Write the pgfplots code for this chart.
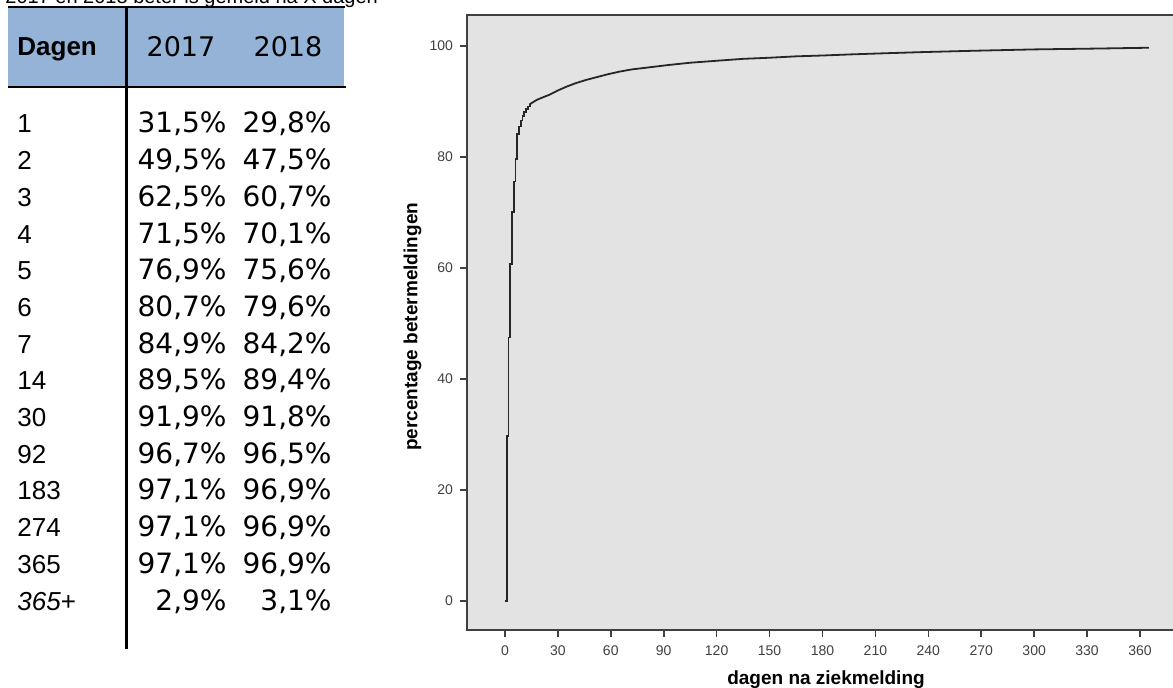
\documentclass[border=0pt]{standalone}
\usepackage{fontspec}
\setmainfont{Liberation Sans}
\newfontfamily\verd{DejaVu Sans}
\usepackage{pgfplots}
\pgfplotsset{compat=1.18}

\definecolor{hdrblue}{HTML}{95B3D7}
\definecolor{bggray}{HTML}{E3E3E3}
\definecolor{axgray}{HTML}{404040}
\definecolor{curve}{HTML}{262626}

\begin{document}
\begin{tikzpicture}
% picture is 1173 x 688 px, 1 px = 0.5pt
\path[use as bounding box, clip] (0,0) rectangle (586.5pt,-344pt);

% ---- table (px coordinates, y downwards)
\begin{scope}[x=0.5pt, y=-0.5pt, every node/.style={inner sep=0pt}]
  \node[anchor=base west, font=\fontsize{10}{12}\selectfont] at (5,4) {2017 en 2018 beter is gemeld na X dagen};
  \fill[hdrblue] (8,8) rectangle (344,86);
  \draw[line width=1pt] (8,7) -- (345,7);
  \draw[line width=1.3pt] (8,87) -- (346,87);
  \draw[line width=1.5pt] (126,7) -- (126,649);

  \node[anchor=base west, font=\fontsize{13}{15}\selectfont\bfseries] at (17,56) {Dagen};
  \node[anchor=base, font=\verd\fontsize{13.5}{15}\selectfont] at (181,57) {2017};
  \node[anchor=base, font=\verd\fontsize{13.5}{15}\selectfont] at (288,57) {2018};

  \foreach \d/\a/\b [count=\i from 0] in {
      1/{31,5\%}/{29,8\%}, 2/{49,5\%}/{47,5\%}, 3/{62,5\%}/{60,7\%},
      4/{71,5\%}/{70,1\%}, 5/{76,9\%}/{75,6\%}, 6/{80,7\%}/{79,6\%},
      7/{84,9\%}/{84,2\%}, 14/{89,5\%}/{89,4\%}, 30/{91,9\%}/{91,8\%},
      92/{96,7\%}/{96,5\%}, 183/{97,1\%}/{96,9\%}, 274/{97,1\%}/{96,9\%},
      365/{97,1\%}/{96,9\%}, {\itshape 365}+/{2,9\%}/{3,1\%}}{
    \pgfmathsetmacro\yy{133+36.7*\i}
    \node[anchor=base west, font=\fontsize{13}{15}\selectfont] at (17,\yy) {\d};
    \node[anchor=base east, font=\verd\fontsize{14}{16}\selectfont] at (227,\yy) {\a};
    \node[anchor=base east, font=\verd\fontsize{14}{16}\selectfont] at (332,\yy) {\b};
  }
\end{scope}

% ---- chart
\begin{axis}[
    at={(233.5pt,-315pt)}, anchor=south west,
    scale only axis,
    width=359pt, height=307.5pt,
    xmin=-21.5, xmax=385.5,
    ymin=-5.2, ymax=105.6,
    axis background/.style={fill=bggray},
    axis line style={draw=axgray, line width=0.9pt},
    tick pos=left,
    tick align=outside,
    major tick length=3.5pt,
    every tick/.style={draw=axgray, line width=0.8pt},
    xtick={0,30,...,360},
    ytick={0,20,...,100},
    /pgf/number format/assume math mode=true,
    tick label style={font=\fontsize{7}{8}\selectfont, text=axgray},
    xticklabel style={yshift=-1pt},
    xlabel={dagen na ziekmelding},
    ylabel={percentage betermeldingen},
    xlabel style={font=\fontsize{9.5}{11}\selectfont\bfseries,
                  at={(axis description cs:0.5,-0.088)}, anchor=base},
    ylabel style={font=\fontsize{9.5}{11}\selectfont\bfseries,
                  at={(axis description cs:-0.076,0.493)}, anchor=center},
]
% first two weeks: visible steps
\addplot[const plot, draw=curve, line width=0.9pt] coordinates {
  (0,0) (1,29.8) (2,47.5) (3,60.7) (4,70.1) (5,75.6) (6,79.6) (7,84.2)
  (8,85.5) (9,86.6) (10,87.4) (11,88.1) (12,88.7) (13,89.1) (14,89.5)
};
% later on the many small steps read as a smooth line
\addplot[draw=curve, line width=0.9pt] coordinates {
  (14,89.5) (16,89.9) (18,90.3) (21,90.7) (25,91.2) (30,92.0) (35,92.7)
  (40,93.3) (46,93.9) (52,94.4) (58,94.9) (65,95.4) (72,95.8) (80,96.1)
  (93,96.6) (105,97.0) (122,97.4) (135,97.7) (150,97.9) (165,98.15)
  (180,98.3) (196,98.5) (215,98.7) (235,98.9) (265,99.15) (300,99.4)
  (335,99.55) (365,99.7)
};
\draw[axgray, line width=0.9pt] (rel axis cs:0,1) -- (rel axis cs:1,1);
\end{axis}
\end{tikzpicture}
\end{document}
